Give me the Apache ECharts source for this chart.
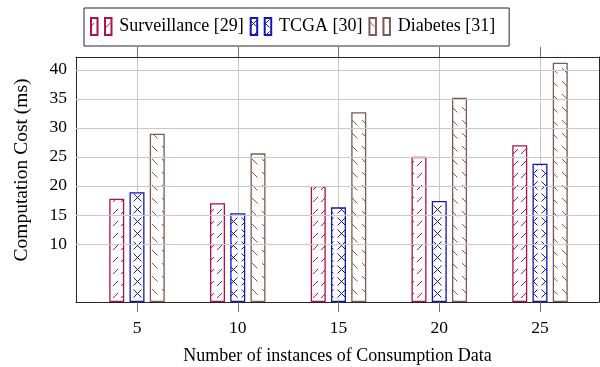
<!DOCTYPE html>
<html>
<head>
<meta charset="utf-8">
<script src="https://cdn.jsdelivr.net/npm/echarts@6/dist/echarts.min.js"></script>
<style>
html,body{margin:0;padding:0;background:#fff;}
#c{width:600px;height:367px;}
</style>
</head>
<body>
<div id="c"></div>
<script>
// ---- data ----
var categories = ['5', '10', '15', '20', '25'];
var seriesNames = ['Surveillance [29]', 'TCGA [30]', 'Diabetes [31]'];
var surveillance = [17.8, 17.0, 20.0, 25.0, 27.0];
var tcga = [18.9, 15.3, 16.3, 17.4, 23.8];
var diabetes = [29.0, 25.6, 32.7, 35.2, 41.2];
var yTicks = [10, 15, 20, 25, 30, 35, 40];
var yMin = 0, yMax = 42.2;
var xTitle = 'Number of instances of Consumption Data';
var yTitle = 'Computation Cost (ms)';

// ---- styles ----
var FONT = '"Liberation Serif", "Times New Roman", serif';
var cRed = '#b0104a', cBlue = '#1616b4', cBrown = '#7a5a5a';

function makePattern(kind, color) {
  var cv = document.createElement('canvas');
  var w, h;
  if (kind === 'ne') { w = 8; h = 12; }
  else if (kind === 'x') { w = 12; h = 12; }
  else { w = 10; h = 13; }
  cv.width = w; cv.height = h;
  var ctx = cv.getContext('2d');
  ctx.fillStyle = '#fff';
  ctx.fillRect(0, 0, w, h);
  ctx.strokeStyle = color;
  ctx.lineWidth = 1;
  ctx.beginPath();
  if (kind === 'ne') {
    ctx.moveTo(1, 10); ctx.lineTo(6, 5);
  } else if (kind === 'x') {
    ctx.moveTo(1.5, 1.5); ctx.lineTo(9.5, 9.5);
    ctx.moveTo(9.5, 1.5); ctx.lineTo(1.5, 9.5);
  } else {
    ctx.moveTo(2, 3); ctx.lineTo(7.5, 8.5);
  }
  ctx.stroke();
  return { image: cv, repeat: 'repeat' };
}

var patterns = [makePattern('ne', cRed), makePattern('x', cBlue), makePattern('nw', cBrown)];
var borders = [cRed, cBlue, cBrown];
var values = [surveillance, tcga, diabetes];

var gridColor = '#c8c8c8';
var frameColor = '#262626';
var tickColor = '#6e6e6e';

var series = seriesNames.map(function (name, i) {
  return {
    name: name,
    type: 'bar',
    xAxisIndex: 2,
    yAxisIndex: 2,
    data: values[i],
    barWidth: 15,
    barGap: '35%',
    clip: false,
    z: 3,
    itemStyle: { color: patterns[i], borderColor: borders[i], borderWidth: 1.3 }
  };
});
// horizontal major grid lines, placed through the y scale at the tick values
series.push({
  name: '__grid',
  type: 'line',
  xAxisIndex: 0,
  yAxisIndex: 0,
  data: [],
  silent: true,
  z: 1,
  markLine: {
    silent: true,
    symbol: ['none', 'none'],
    animation: false,
    label: { show: false },
    emphasis: { disabled: true },
    lineStyle: { color: gridColor, width: 1, type: 'solid' },
    data: yTicks.map(function (t) { return { yAxis: t }; })
  }
});

var chart = echarts.init(document.getElementById('c'), null, { renderer: 'canvas' });

chart.setOption({
  animation: false,
  backgroundColor: '#fff',
  grid: [
    { left: 76, top: 57, width: 523, height: 245, outerBoundsMode: 'none', containLabel: false },
    { left: 137, top: 57, width: 403, height: 245, outerBoundsMode: 'none', containLabel: false }
  ],
  legend: {
    data: seriesNames,
    left: 84, top: 8,
    orient: 'horizontal',
    itemGap: 6,
    itemWidth: 26,
    itemHeight: 17,
    icon: 'path://M0,0H6.5V17H0ZM14,0H20.5V17H14Z',
    padding: [9, 14, 10, 6],
    borderColor: frameColor,
    borderWidth: 1,
    borderRadius: 0,
    backgroundColor: '#fff',
    textStyle: { fontFamily: FONT, fontSize: 18, color: '#000' }
  },
  xAxis: [
    { gridIndex: 0, type: 'value', min: 0, max: 1, position: 'bottom',
      axisLine: { show: true, onZero: false, lineStyle: { color: frameColor, width: 1 } },
      axisTick: { show: false }, axisLabel: { show: false }, splitLine: { show: false },
      name: xTitle, nameLocation: 'middle', nameGap: 45,
      nameTextStyle: { fontFamily: FONT, fontSize: 18, color: '#000' } },
    { gridIndex: 0, type: 'value', min: 0, max: 1, position: 'top',
      axisLine: { show: true, onZero: false, lineStyle: { color: frameColor, width: 1 } },
      axisTick: { show: false }, axisLabel: { show: false }, splitLine: { show: false } },
    { gridIndex: 1, type: 'category', data: categories, boundaryGap: false, position: 'bottom',
      axisLine: { show: false, onZero: false },
      axisTick: { show: true, inside: false, length: 10, lineStyle: { color: tickColor } },
      axisLabel: { margin: 17, fontFamily: FONT, fontSize: 17.5, color: '#000' },
      splitLine: { show: true, lineStyle: { color: gridColor, width: 1 } } },
    { gridIndex: 1, type: 'category', data: categories, boundaryGap: false, position: 'top',
      axisLine: { show: false, onZero: false },
      axisTick: { show: true, inside: false, length: 10, lineStyle: { color: tickColor } },
      axisLabel: { show: false }, splitLine: { show: false } }
  ],
  yAxis: [
    { gridIndex: 0, type: 'value', min: yMin, max: yMax, position: 'left',
      axisLine: { show: true, onZero: false, lineStyle: { color: frameColor, width: 1 } },
      axisTick: { show: true, inside: true, length: 10, customValues: yTicks, lineStyle: { color: tickColor } },
      axisLabel: { customValues: yTicks, margin: 9, fontFamily: FONT, fontSize: 17.5, color: '#000' },
      splitLine: { show: false } },
    { gridIndex: 0, type: 'value', min: yMin, max: yMax, position: 'right',
      axisLine: { show: true, onZero: false, lineStyle: { color: frameColor, width: 1 } },
      axisTick: { show: true, inside: true, length: 10, customValues: yTicks, lineStyle: { color: tickColor } },
      axisLabel: { show: false }, splitLine: { show: false } },
    { gridIndex: 1, type: 'value', min: yMin, max: yMax, show: false }
  ],
  graphic: [
    { type: 'text', x: 22, y: 170, rotation: Math.PI / 2,
      style: { text: yTitle, fontFamily: FONT, fontSize: 19.5, fill: '#000', align: 'center', verticalAlign: 'middle' } }
  ],
  series: series
});
</script>
</body>
</html>
